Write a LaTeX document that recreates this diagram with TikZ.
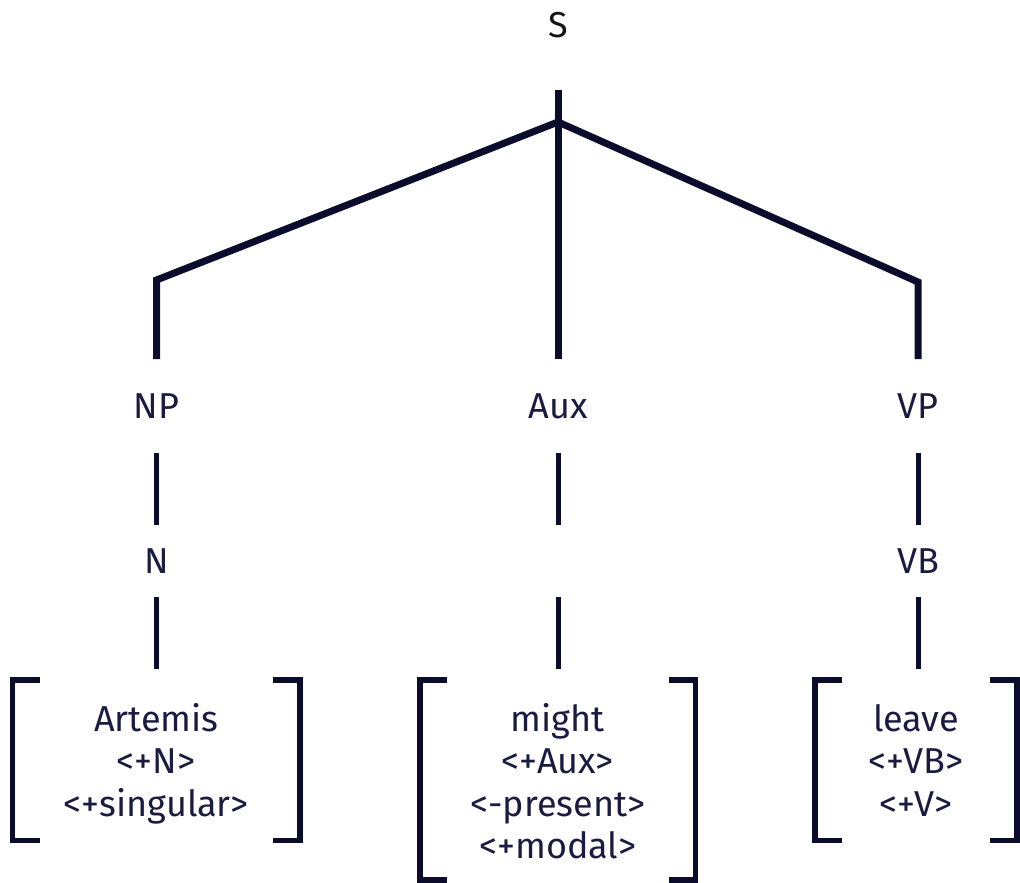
\documentclass[tikz,border=0pt]{standalone}
\usepackage{fontspec}
\setmainfont{Fira Sans}
\definecolor{navy}{HTML}{0B0C2C}
\definecolor{txt}{HTML}{1A1B40}
\definecolor{stxt}{HTML}{141414}
\begin{document}
\begin{tikzpicture}[x=1pt,y=-1pt,
  every node/.style={inner sep=0pt,outer sep=0pt},
  lbl/.style={font=\fontsize{36}{42.5}\selectfont,text=txt,text height=25pt,text depth=0pt},
  branch/.style={draw=navy,line width=7pt,line join=miter},
  link/.style={draw=navy,line width=5pt},
  brk/.style={draw=navy,line width=5.5pt,line join=miter},
  featbox/.style={font=\fontsize{36}{42.5}\selectfont,text=txt,anchor=base,text height=51pt}
]
\useasboundingbox (0,0) rectangle (1020,883);

% labels
\node[lbl,text=stxt,minimum height=129pt] (S) at (558,25.5) {S};
\node[lbl,minimum height=94pt] (NP) at (156.5,406) {NP};
\node[lbl,minimum height=94pt] (Aux) at (558,406) {Aux};
\node[lbl,minimum height=94pt] (VP) at (918,406) {VP};
\node[lbl,minimum height=72pt] (N) at (156.5,561) {N};
\node[lbl,minimum height=72pt] (auxgap) at (558,561) {};
\node[lbl,minimum height=72pt] (VB) at (918,561) {VB};

\coordinate (j) at (558,122);
\coordinate (npc) at (156.5,280);
\coordinate (vpc) at (918,282);

% feature boxes
\node[featbox,minimum width=287.5pt,text depth=109.5pt] (art) at (156.25,731)
  {\begin{tabular}[t]{@{}c@{}}Artemis\\ {<}+N{>}\\ {<}+singular{>}\end{tabular}};
\node[featbox,minimum width=275.5pt,text depth=149pt] (might) at (557.75,731)
  {\begin{tabular}[t]{@{}c@{}}might\\ {<}+Aux{>}\\ {<}-present{>}\\ {<}+modal{>}\end{tabular}};
\node[featbox,minimum width=202pt,text depth=109.5pt] (leave) at (916,731)
  {\begin{tabular}[t]{@{}c@{}}leave\\ {<}+VB{>}\\ {<}+V{>}\end{tabular}};

% brackets
\foreach \b in {art,might,leave}{
  \draw[brk] ([xshift=27pt]\b.north west) -- (\b.north west) -- (\b.south west) -- ([xshift=27pt]\b.south west);
  \draw[brk] ([xshift=-27pt]\b.north east) -- (\b.north east) -- (\b.south east) -- ([xshift=-27pt]\b.south east);
}

% tree branches
\draw[branch] (S) -- (Aux);
\draw[branch] (NP) -- (npc) -- (j) -- (vpc) -- (VP);

% lower links
\draw[link] (NP) -- (N);
\draw[link] (N) -- ([yshift=11pt]art.north -| N);
\draw[link] (Aux) -- (auxgap);
\draw[link] (auxgap) -- ([yshift=11pt]might.north -| auxgap);
\draw[link] (VP) -- (VB);
\draw[link] (VB) -- ([yshift=11pt]leave.north -| VB);
\end{tikzpicture}
\end{document}
